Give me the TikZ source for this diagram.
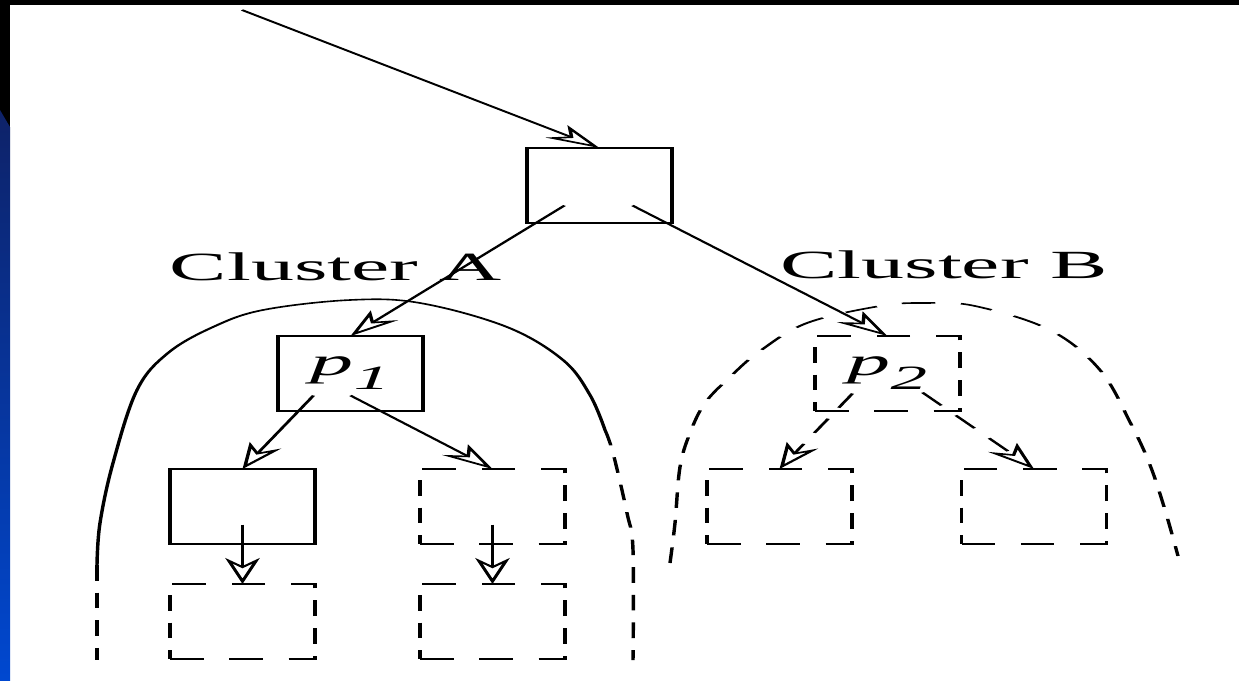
\documentclass[tikz,border=0pt]{standalone}
\usepackage{fontspec}
\setmainfont{Liberation Serif}
\usetikzlibrary{arrows.meta}

\definecolor{slidenavy}{RGB}{14,34,104}
\definecolor{slideblue}{RGB}{0,72,208}

\tikzset{
  box/.style={draw, line width=0.8pt, minimum width=33.7pt, minimum height=37.5pt,
    inner sep=0pt, outer sep=0pt},
  dbox/.style={box, dash pattern=on 7.8pt off 6pt},
  arr/.style={line width=0.8pt, -{Stealth[open, length=13pt, width=8pt, inset=4pt]}},
  darr/.style={arr, dash pattern=on 7.8pt off 6pt},
  lbl/.style={font=\fontsize{20}{24}\selectfont},
  hull/.style={line width=0.8pt},
  dhull/.style={hull, dash pattern=on 7.8pt off 6pt}
}

\begin{document}
\begin{tikzpicture}[x=0.5pt, y=-0.5pt]
\useasboundingbox (0,0) rectangle (1239,681);

% Slide background
\fill[white] (0,0) rectangle (1239,681);
\fill[black] (0,0) rectangle (1239,5);
\fill[black] (0,0) rectangle (10,681);
\shade[top color=slidenavy, bottom color=slideblue] (0,110) -- (10,127) -- (10,681) -- (0,681) -- cycle;

% the figure is stretched sideways
\begin{scope}[transform canvas={xscale=2.15}, x=0.23256pt]

% Cluster outlines
\draw[hull] plot[smooth, tension=0.6] coordinates {(97,565) (100,523) (113,463) (137,390) (168,353)
  (213,327) (263,310) (350,300) (420,303) (507,327) (563,360) (590,395) (605,430)};
\draw[dhull] plot[smooth, tension=0.6] coordinates {(605,430) (613,453) (627,513) (633,550) (633,660)};
\draw[dhull] (97,565) -- (97,660);
\draw[dhull] plot[smooth, tension=0.6] coordinates {(670,563) (675,523) (680,467) (690,433) (705,403)
  (730,377) (760,351) (807,323) (880,306) (925,303) (975,306) (1050,330) (1100,370)
  (1131,424) (1150,465) (1165,510) (1178,556)};

\node[lbl, anchor=base] (labA) at (336,280) {Cluster A};
\node[lbl, anchor=base] (labB) at (944,278) {Cluster B};

% Boxes
\node[box] (root) at (599.5,185.5) {};
\node[box, lbl] (p1) at (350.5,373.5) {\itshape p\raisebox{-7pt}{\fontsize{17}{20}\selectfont 1}};
\node[dbox, lbl] (p2) at (887.5,373.5) {\itshape p\raisebox{-7pt}{\fontsize{17}{20}\selectfont 2}};
\node[box] (a1) at (242.5,506.5) {};
\node[dbox] (a2) at (492.5,506.5) {};
\node[dbox] (b1) at (779.5,506.5) {};
\node[dbox] (b2) at (1034,506.5) {};
\node[dbox] (a11) at (242.5,621.5) {};
\node[dbox] (a21) at (492.5,621.5) {};

% Arrows
\coordinate (src) at (242,10);
\draw[arr] (src) -- (root.north);
\draw[arr] ([shift={(-35,20)}]root.center) -- (p1.north);
\draw[arr] ([shift={(33,20)}]root.center) -- (p2.north);
\draw[arr] ([shift={(-37,22)}]p1.center) -- (a1.north);
\draw[arr] ([shift={(0,22)}]p1.center) -- (a2.north);
\draw[darr] ([shift={(-35,20)}]p2.center) -- (b1.north);
\draw[darr] ([shift={(35,19)}]p2.center) -- (b2.north);
\draw[arr] ([shift={(0,18)}]a1.center) -- (a11.north);
\draw[arr] ([shift={(0,18)}]a2.center) -- (a21.north);

\end{scope}
\end{tikzpicture}
\end{document}
